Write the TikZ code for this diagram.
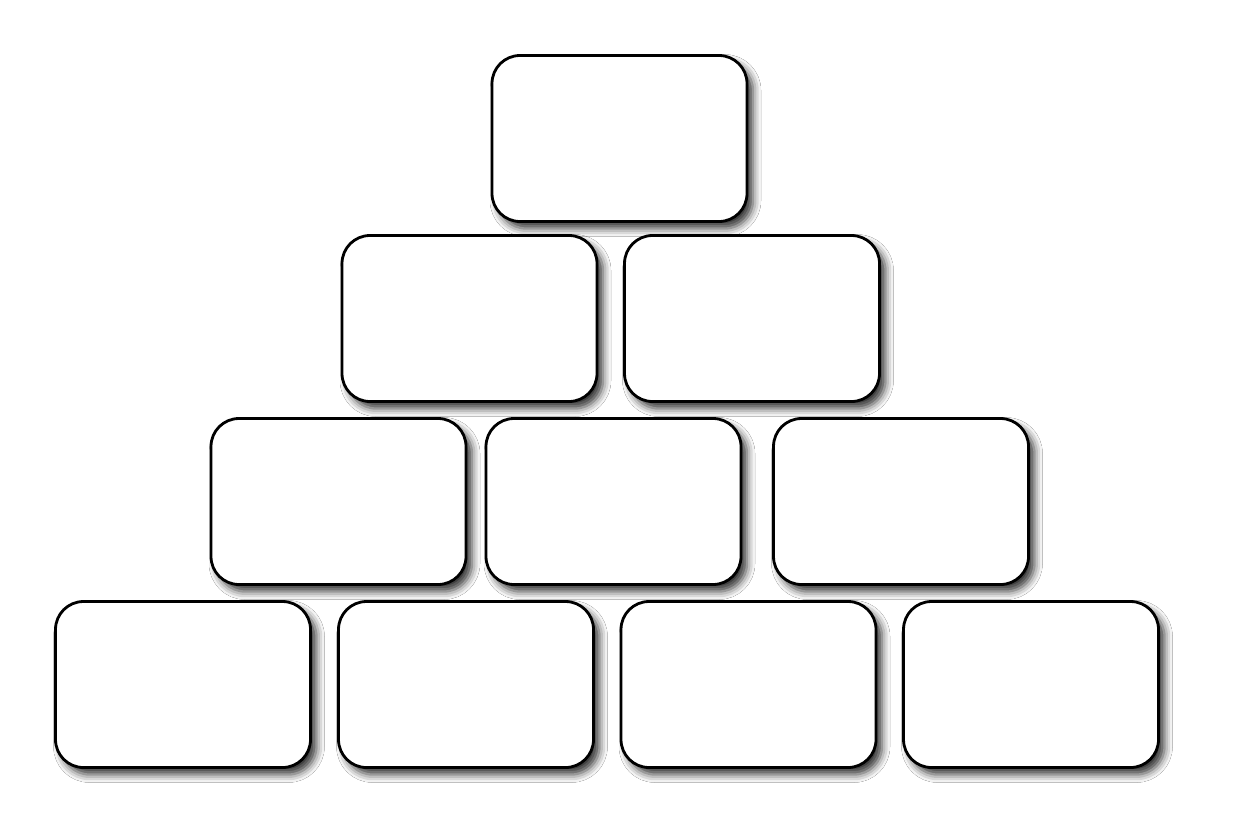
\documentclass[tikz,border=0pt]{standalone}
\usetikzlibrary{shadows.blur}
\begin{document}
\begin{tikzpicture}[x=1pt,y=-1pt,
  blockbox/.style={draw=black, line width=2.8pt, fill=white, rounded corners=28pt,
    minimum width=255pt, minimum height=166pt, inner sep=0pt,
    blur shadow={shadow xshift=6pt, shadow yshift=-7pt, shadow blur radius=8pt, shadow opacity=80}}]
\useasboundingbox[fill=white] (0,0) rectangle (1238,836);
\node[blockbox] (a1) at (619.5,138.5) {};
\node[blockbox] (b1) at (469.5,318.5) {};
\node[blockbox] (b2) at (752,318.5) {};
\node[blockbox] (c1) at (338.5,501.5) {};
\node[blockbox] (c2) at (613.5,501.5) {};
\node[blockbox] (c3) at (901,501.5) {};
\node[blockbox] (d1) at (183,684.5) {};
\node[blockbox] (d2) at (466,684.5) {};
\node[blockbox] (d3) at (748.5,684.5) {};
\node[blockbox] (d4) at (1031,684.5) {};
\end{tikzpicture}
\end{document}
